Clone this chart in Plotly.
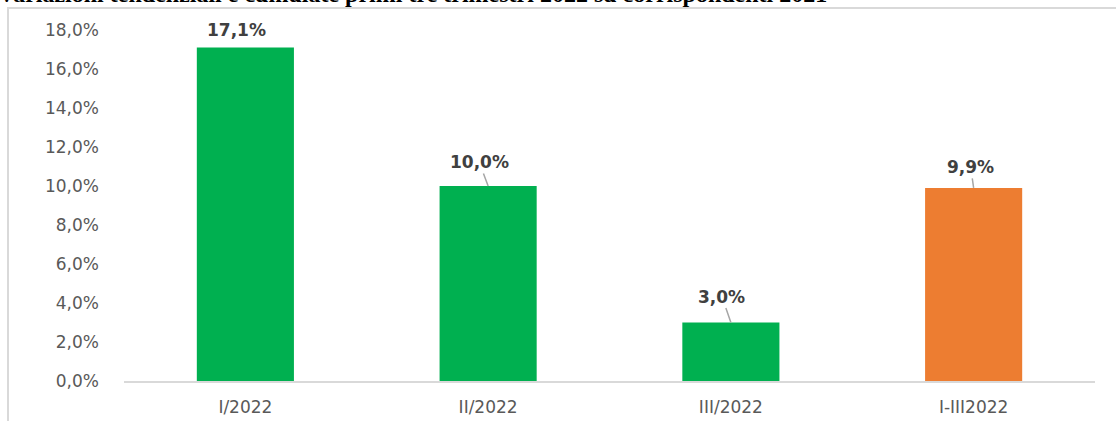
import plotly.graph_objects as go

categories = ["I/2022", "II/2022", "III/2022", "I-III2022"]
values = [17.1, 10.0, 3.0, 9.9]
bar_colors = ["#00b050", "#00b050", "#00b050", "#ed7d31"]
value_labels = ["17,1%", "10,0%", "3,0%", "9,9%"]
y_tick_vals = [0, 2, 4, 6, 8, 10, 12, 14, 16, 18]
y_tick_text = ["0,0%", "2,0%", "4,0%", "6,0%", "8,0%", "10,0%", "12,0%", "14,0%", "16,0%", "18,0%"]
title_text = "Variazioni tendenziali e cumulate primi tre trimestri 2022 su corrispondenti 2021"

# label offsets in pixels (text centre relative to bar top)
label_dx = [-9, -9, -9, -3]
label_dy = [-18, -24, -26, -21]
leader = [False, True, True, True]

W, H = 1116, 421
ml, mr, mt, mb = 124, 21, 30, 40
pw, ph = W - ml - mr, H - mt - mb

def px_x(p):
    return (p - ml) / pw

def px_y(p):
    return (H - mb - p) / ph

fig = go.Figure()
fig.add_trace(go.Bar(
    x=categories, y=values, marker=dict(color=bar_colors, line=dict(width=0)),
    hoverinfo="skip", showlegend=False,
))

label_font = dict(family="DejaVu Sans", size=17, color="#404040", weight="bold")
for c, v, t, dx, dy, ld in zip(categories, values, value_labels, label_dx, label_dy, leader):
    if ld:
        fig.add_annotation(x=c, y=v, text=t, showarrow=True, arrowhead=0,
                           arrowwidth=1.5, arrowcolor="#a6a6a6", ax=dx, ay=dy,
                           font=label_font, standoff=0, startstandoff=0)
    else:
        fig.add_annotation(x=c, y=v, text=t, showarrow=False, xshift=dx, yshift=-dy,
                           yanchor="middle", font=label_font)

# title at the very top (clipped by the page edge, as in the reference)
fig.add_annotation(xref="paper", yref="paper", x=px_x(-4), y=px_y(9),
                   xanchor="left", yanchor="bottom", showarrow=False,
                   text=title_text,
                   font=dict(family="Liberation Serif", size=24, color="#000000", weight="bold"))

# outer frame
fig.add_shape(type="rect", xref="paper", yref="paper",
              x0=px_x(8), x1=px_x(1140), y0=px_y(460), y1=px_y(8),
              line=dict(color="#d9d9d9", width=2), fillcolor="rgba(0,0,0,0)", layer="below")

fig.update_layout(
    width=W, height=H,
    margin=dict(l=ml, r=mr, t=mt, b=mb),
    paper_bgcolor="white", plot_bgcolor="white",
    bargap=0.6,
    xaxis=dict(showline=True, linecolor="#d9d9d9", linewidth=2, showgrid=False,
               ticks="", tickfont=dict(family="DejaVu Sans", size=17, color="#595959"),
               ticklabelstandoff=10, fixedrange=True, automargin=False),
    yaxis=dict(range=[0, 18], tickvals=y_tick_vals, ticktext=y_tick_text,
               showgrid=False, zeroline=False, showline=False, ticks="",
               tickfont=dict(family="DejaVu Sans", size=17, color="#595959"),
               ticklabelstandoff=24, fixedrange=True, automargin=False),
)

fig.write_html("out.html")
